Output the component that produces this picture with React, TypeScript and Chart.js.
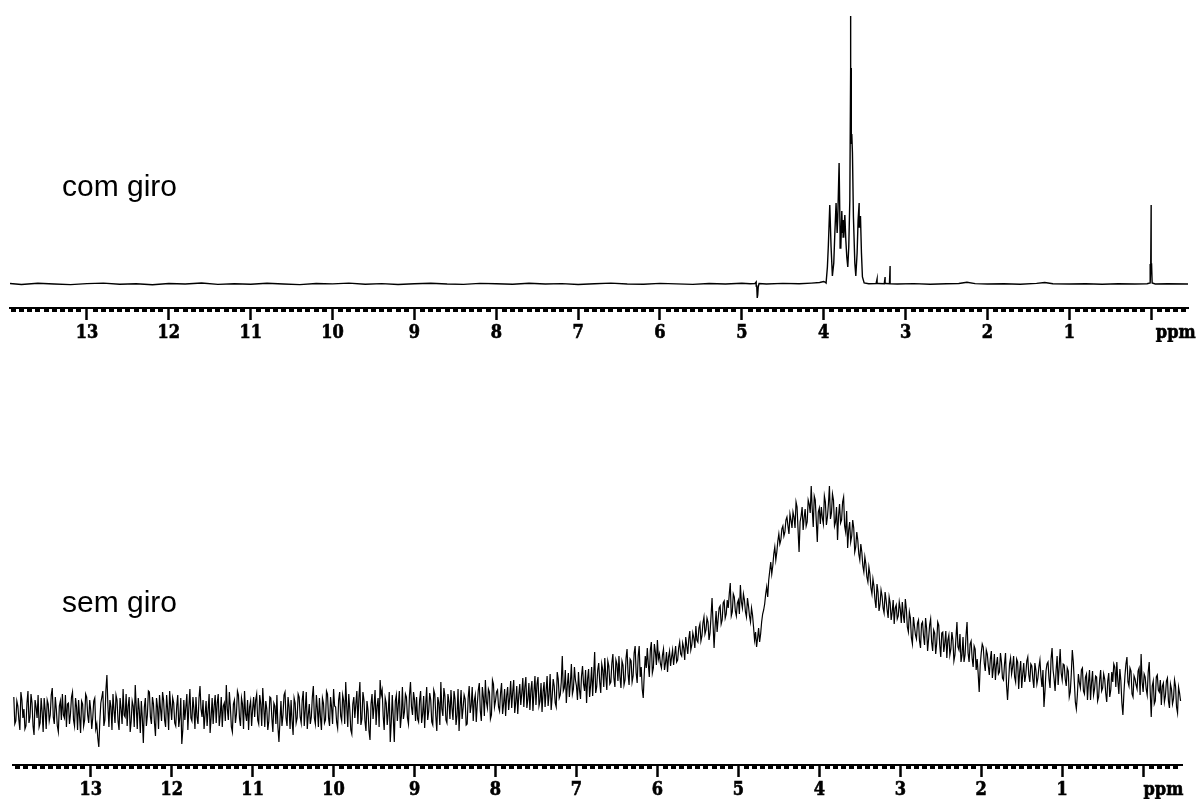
import React, { useEffect, useRef } from "react";
import { Chart, registerables } from "chart.js";

Chart.register(...registerables);

// ---------- axis texts ----------
const majorTickValues = [13, 12, 11, 10, 9, 8, 7, 6, 5, 4, 3, 2, 1];
const majorTickLabels = ["13", "12", "11", "10", "9", "8", "7", "6", "5", "4", "3", "2", "1"];
const unitLabel = "ppm";
const comGiroUnitAt = -0.3;
const semGiroUnitAt = -0.25;
const comGiroTitle = "com giro";
const semGiroTitle = "sem giro";

// ---------- "com giro" spectrum (ppm, intensity) ----------
const comGiroPpm = [
  13.94, 13.8, 13.6, 13.4, 13.2, 13.0, 12.8, 12.6, 12.4, 12.2, 12.0, 11.8, 11.6, 11.4, 11.2, 11.0,
  10.8, 10.6, 10.4, 10.2, 10.0, 9.8, 9.6, 9.4, 9.2, 9.0, 8.8, 8.6, 8.4, 8.2, 8.0, 7.8, 7.6, 7.4,
  7.2, 7.0, 6.8, 6.6, 6.4, 6.2, 6.0, 5.8, 5.6, 5.4, 5.2, 5.0, 4.9, 4.84, 4.825, 4.818, 4.812,
  4.806, 4.8, 4.79, 4.7, 4.5, 4.3, 4.15, 4.05, 4.0, 3.985, 3.971, 3.955, 3.943, 3.926, 3.91,
  3.894, 3.877, 3.864, 3.849, 3.836, 3.828, 3.812, 3.8, 3.791, 3.779, 3.771, 3.763, 3.755,
  3.742, 3.73, 3.718, 3.706, 3.694, 3.681, 3.673, 3.669, 3.667, 3.665, 3.661, 3.657, 3.649,
  3.637, 3.62, 3.608, 3.592, 3.58, 3.567, 3.559, 3.551, 3.539, 3.527, 3.506, 3.45, 3.36, 3.348,
  3.338, 3.26, 3.25, 3.24, 3.197, 3.189, 3.181, 3.1, 2.9, 2.7, 2.5, 2.35, 2.25, 2.15, 2.0, 1.8,
  1.6, 1.4, 1.3, 1.2, 1.0, 0.8, 0.6, 0.4, 0.2, 0.05, 0.012, 0.005, 0.0, -0.005, -0.012, -0.05,
  -0.2, -0.45,
];
const comGiroInt = [
  0.5, -0.5, 0.8, 0, -0.6, 0.4, 0.9, -0.3, 0.2, -0.8, 0.5, 0, 1, -0.4, 0.3, -0.2,
  0.7, 0, -0.6, 0.5, 0.1, 0.9, -0.2, 0.4, -0.5, 0.3, 0.8, 0, -0.4, 0.6, 0.2, -0.3, 0.7, 0,
  0.4, -0.5, 0.3, 0.9, 0, -0.2, 0.6, 0.1, -0.4, 0.5, 0, 0.8, 0.3, 0.5, 2, -2, -14,
  -11, -3, 0.5, 0, 0.6, 0.2, 0.9, 1.5, 2.5, 2, 1, 17, 39, 79, 37,
  8, 21, 51, 81, 51, 67, 121, 51, 36, 73, 51, 64, 47,
  69, 44, 27, 17, 37, 84, 217, 268, 180, 216, 140, 150, 131,
  67, 21, 8, 31, 64, 81, 57, 68, 31, 7, 1, 0.3, 0.5, 5,
  0.5, 0.3, 7, 0.5, 0.3, 18, 0.3, 0, 0.4, -0.3, 0.2, 0.5, 1.8, 0.4, 0, 0.3,
  -0.2, 0.6, 1.5, 0.3, 0, 0.2, -0.3, 0.3, 0, 0.3, 1, 20, 79, 20, 1, 0,
  0.3, 0,
];

// ---------- "sem giro" spectrum ----------
// grid intensities every 0.025 ppm starting at 13.95 ppm
const semGiroStartPpm = 13.95;
const semGiroStepPpm = 0.025;
const semGiro13 = [15, -9, 6, -18, 12, 3, -14, 21, -5, 9, -23, 5, 17, -11, 0, 14, -17, 8, -3, 24, -12, 3, -20, 11, 18, -6, -15, 9, -2, 20, -14, 5, 12, -21, 8, -8, 15, -11, 2];
const semGiro12 = [-6, 14, -12, -35, 9, 21, -8, 37, -15, 5, 18, -11, 12, -18, 3, 23, -5, -14, 15, -9, 6, 27, -17, 2, 11, -31, 14, -3, 20, -12, 8, -24, 5, 17, -9, 12, -15, 3, 21, -8];
const semGiro11 = [9, -14, 17, -6, -32, 12, 5, -18, 23, -9, 3, 15, -12, 26, -5, -17, 11, 2, -21, 14, 6, -11, 18, -3, -15, 9, 27, -8, 5, -20, 12, -2, 17, -14, 8, 21, -9, -18, 11, 3];
const semGiro10 = [-5, 18, -12, 8, 24, -15, 3, -9, 14, -20, 6, 17, -30, 11, -3, 20, -14, 5, 12, -23, 9, -6, 15, -11, 21, 2, -17, 8, -5, 26, -12, 3, 14, -18, 9, -8, 18, -14, 5, 23];
const semGiro9 = [5, -16, 20, -9, 11, 30, -15, 3, -22, 15, 8, -12, 30, -7, 12, -19, 2, -28, 18, 6, -13, 14, 32, 22, -18, 9, 0, -30, 17, -30, 17, 8, -16, 25, 0, 15, -12, 30, -3, 12];
const semGiro8 = [15, -10, 21, -2, -16, 25, 1, 12, -13, 18, -19, 9, 30, -4, 16, -11, 10, 22, -8, 13, -3, -19, 22, 4, 13, -12, 26, 7, -9, 17, 8, 29, -9, 15, 32, 4, 20, -3, 28, 11];
const semGiro7 = [22, 1, 29, 8, -4, 25, 14, 4, 32, 10, -2, 28, 19, 5, 35, 13, 2, 31, 20, 7, 35, 11, 0, 30, 21, 6, 38, 15, 26, 5, 33, 17, 56, 24, 9, 39, 29, 18, 45, 26];
const semGiro6 = [40, 13, 46, 21, 9, 43, 27, 16, 60, 25, 49, 19, 42, 54, 22, 46, 30, 58, 25, 48, 56, 24, 47, 32, 63, 27, 51, 36, 66, 29, 66, 45, 14, 56, 64, 35, 70, 44, 60, 72];
const semGiro5 = [58, 44, 63, 49, 40, 61, 55, 47, 66, 52, 70, 56, 64, 75, 58, 81, 67, 74, 86, 70, 88, 76, 95, 82, 90, 79, 114, 64, 101, 93, 106, 92, 111, 98, 104, 129, 100, 115, 96, 112];
const semGiro4 = [127, 104, 112, 95, 106, 90, 97, 72, 65, 84, 78, 98, 108, 125, 132, 150, 146, 165, 160, 178, 172, 186, 180, 195, 178, 192, 200, 184, 205, 160, 196, 182, 203, 190, 208, 226, 185, 212, 170, 204];
const semGiro3 = [205, 188, 210, 195, 226, 199, 212, 190, 172, 208, 192, 215, 180, 164, 190, 176, 184, 165, 172, 152, 160, 140, 148, 130, 138, 118, 126, 104, 120, 108, 116, 99, 112, 94, 109, 100, 88, 107, 96, 103];
const semGiro2 = [110, 89, 103, 80, 94, 68, 86, 73, 92, 64, 90, 67, 84, 73, 93, 61, 79, 69, 87, 55, 80, 69, 54, 77, 63, 72, 57, 90, 62, 50, 75, 57, 90, 50, 71, 45, 63, 53, 20, 59];
const semGiro1 = [65, 41, 58, 37, 61, 44, 32, 55, 40, 50, 32, 59, 12, 48, 38, 56, 30, 50, 41, 24, 49, 37, 55, 30, 46, 24, 42, 34, 52, 25, 5, 41, 50, 24, 64, 33, 42, 27, 63, 32];
const semGiro0 = [47, 26, 41, 20, 62, 30, 3, 38, 24, 44, 18, 38, 30, 12, 41, 23, 35, 15, 42, 24, 33, 10, 39, 22, 30, 45, 50, 18, 31, -3, 36, 55, 26, 41, 15, 33, 23, 44, 58, 20];
const semGiroNeg = [35, 17, 50, -5, 31, 11, 37, 20, 7, 29, 16, 34, 4, 23, 13, 26, -1, 19];

// half-step intensities (0.0125 ppm after each grid point)
const semGiroMid13 = [-12, 11, -8, 20, -6, -17, 9, -11, 18, -14, 12, -6, -15, 14, -20, 2, 12, -9, 17, -5, 15, -14, 6, -8, -3, 17, 8, -12, 15, -8, 14, -18, -5, 11, -14, 18, -3, 12, -17];
const semGiroMid12 = [11, -17, -26, -9, 15, -14, 22, 6, 12, -18, 2, 17, -9, 14, -12, -3, 18, 6, -20, 11, -15, 5, 14, -21, -6, 5, -14, 21, -5, 15, -11, 14, -17, 3, 20, -8, 17, -18, 6, 14];
const semGiroMid11 = [-11, 6, -15, 14, -18, -8, 18, 5, -6, 15, -17, -5, 14, 3, 12, -3, -14, 18, -5, -12, 17, 9, -14, 15, 6, -9, 3, 20, -15, 8, -11, 21, -6, 14, -17, -2, 12, 5, -14, 15];
const semGiroMid10 = [12, -8, 17, -14, 5, 11, -18, 15, -6, 9, -12, -15, -9, -14, 17, -6, 15, -17, -9, 14, -11, 18, -5, 12, -14, 20, -3, -12, 15, -6, 17, -15, -5, 14, -11, 21, -6, 15, -12, 6];
const semGiroMid9 = [-10, 12, -4, 17, -12, 6, 18, -18, 8, -6, 21, 14, -13, 20, -9, 11, -19, 8, -7, 22, 6, -15, 17, -4, 14, -13, 20, -10, -6, 11, -9, 21, -4, -7, 18, -6, 17, 5, 20, -9];
const semGiroMid8 = [-7, 12, -11, 16, 7, -8, 19, -10, 22, -4, 15, -13, 3, 24, -8, 18, -7, 4, 21, -13, 23, 5, -7, 17, -13, 14, -1, 25, 11, -10, 22, 1, 25, -4, 10, 23, -7, 32, 5, 20];
const semGiroMid7 = [5, 19, -2, 23, 16, 2, 31, 20, -1, 26, 17, 7, 34, 25, 4, 29, 22, 1, 36, 28, 6, 29, 20, 5, 36, 18, 2, 33, 9, 40, 14, 30, 21, 42, 27, 15, 48, 23, 32, 12];
const semGiroMid6 = [22, 36, 28, 42, 33, 15, 45, 37, 19, 42, 30, 48, 25, 36, 51, 28, 49, 34, 52, 31, 35, 51, 27, 54, 38, 53, 30, 59, 39, 56, 35, 23, 38, 44, 48, 62, 39, 68, 47, 53];
const semGiroMid5 = [48, 57, 42, 60, 55, 46, 62, 57, 50, 64, 58, 69, 52, 66, 73, 62, 79, 64, 72, 84, 71, 89, 78, 94, 72, 96, 88, 85, 80, 104, 88, 109, 94, 112, 118, 96, 118, 101, 109, 98];
const semGiroMid4 = [110, 118, 100, 114, 96, 104, 85, 80, 74, 70, 90, 102, 118, 115, 141, 138, 158, 152, 171, 168, 183, 176, 192, 186, 198, 184, 195, 210, 182, 190, 205, 194, 186, 212, 199, 203, 216, 191, 200, 188];
const semGiroMid3 = [194, 216, 187, 208, 193, 218, 186, 205, 196, 189, 210, 186, 201, 182, 170, 192, 160, 180, 158, 168, 146, 155, 135, 145, 124, 133, 112, 128, 101, 122, 104, 120, 102, 115, 92, 112, 104, 93, 110, 89];
const semGiroMid2 = [97, 113, 85, 100, 74, 95, 77, 89, 71, 88, 76, 94, 61, 87, 70, 82, 58, 90, 67, 79, 60, 81, 72, 57, 80, 51, 74, 65, 78, 57, 50, 77, 59, 68, 54, 66, 42, 38, 47, 68];
const semGiroMid1 = [49, 62, 46, 53, 34, 58, 47, 38, 59, 34, 48, 27, 30, 54, 45, 35, 53, 23, 51, 38, 30, 51, 37, 48, 33, 49, 28, 45, 36, 42, 21, 48, 33, 53, 42, 21, 56, 45, 39, 48];
const semGiroMid0 = [33, 44, 15, 38, 50, 10, 17, 29, 42, 21, 35, 12, 42, 29, 17, 36, 11, 32, 21, 38, 19, 31, 15, 40, 48, 25, 31, 43, 9, 19, 48, 30, 44, 18, 36, 27, 41, 17, 30, 38];
const semGiroMidNeg = [23, 40, 20, 26, 8, 35, 22, 32, 26, 10, 31, 11, 28, 8, 32, 5, 25, 11];

const semGiroInt = [
  ...semGiro13, ...semGiro12, ...semGiro11, ...semGiro10, ...semGiro9, ...semGiro8, ...semGiro7,
  ...semGiro6, ...semGiro5, ...semGiro4, ...semGiro3, ...semGiro2, ...semGiro1, ...semGiro0, ...semGiroNeg,
];
const semGiroMidInt = [
  ...semGiroMid13, ...semGiroMid12, ...semGiroMid11, ...semGiroMid10, ...semGiroMid9, ...semGiroMid8,
  ...semGiroMid7, ...semGiroMid6, ...semGiroMid5, ...semGiroMid4, ...semGiroMid3, ...semGiroMid2,
  ...semGiroMid1, ...semGiroMid0, ...semGiroMidNeg,
];

// ---------- helpers ----------
const near = (a: number, b: number) => Math.abs(a - b) < 1e-6;
const isMajor = (v: number) => near(v, Math.round(v));
const isMinor = (v: number) => near(v * 10, Math.round(v * 10));

function makeTicks(min: number, max: number, unitAt: number) {
  const t: { value: number }[] = [];
  for (let k = Math.floor(max * 10); k >= Math.ceil(min * 10); k--) t.push({ value: k / 10 });
  if (!t.some((x) => near(x.value, unitAt))) t.push({ value: unitAt });
  t.sort((a, b) => a.value - b.value);
  return t;
}

function buildConfig(
  points: { x: number; y: number }[],
  lineWidth: number,
  xMin: number,
  xMax: number,
  yMin: number,
  yMax: number,
  padding: { left: number; right: number; top: number; bottom: number },
  unitAt: number
): any {
  return {
    type: "line",
    data: {
      datasets: [
        {
          data: points,
          borderColor: "#000",
          borderWidth: lineWidth,
          pointRadius: 0,
          fill: false,
          tension: 0,
        },
      ],
    },
    options: {
      animation: false,
      responsive: false,
      events: [],
      layout: { padding, autoPadding: false },
      plugins: { legend: { display: false }, tooltip: { enabled: false }, title: { display: false } },
      scales: {
        x: {
          type: "linear",
          position: "bottom",
          reverse: true,
          min: xMin,
          max: xMax,
          afterBuildTicks: (s: any) => {
            s.ticks = makeTicks(xMin, xMax, unitAt);
          },
          afterFit: (s: any) => {
            s.height = 34;
          },
          border: { display: true, color: "#000", width: 2 },
          grid: {
            display: true,
            drawOnChartArea: false,
            drawTicks: true,
            tickLength: 12,
            tickColor: (c: any) => (c.tick && isMinor(c.tick.value) ? "#000" : "rgba(0,0,0,0)"),
            tickWidth: (c: any) => (c.tick && isMajor(c.tick.value) ? 2.5 : 5),
            tickBorderDash: (c: any) => (c.tick && isMajor(c.tick.value) ? [] : [3, 60]),
          },
          ticks: {
            autoSkip: false,
            maxRotation: 0,
            minRotation: 0,
            padding: 3,
            color: "#000",
            textStrokeColor: "#000",
            textStrokeWidth: 0.6,
            font: { family: "'DejaVu Serif Condensed', 'DejaVu Serif', serif", size: 18, weight: "bold" },
            callback: (value: number) => {
              if (near(value, unitAt)) return unitLabel;
              const idx = majorTickValues.findIndex((m) => near(m, value));
              return idx >= 0 ? majorTickLabels[idx] : "";
            },
          },
        },
        y: { display: false, min: yMin, max: yMax },
      },
    },
  };
}

export default function App() {
  const topRef = useRef<HTMLCanvasElement>(null);
  const botRef = useRef<HTMLCanvasElement>(null);

  useEffect(() => {
    const topPts = comGiroPpm.map((p, i) => ({ x: p, y: comGiroInt[i] })).reverse();
    const botPts: { x: number; y: number }[] = [];
    semGiroInt.forEach((v, i) => {
      const p = semGiroStartPpm - i * semGiroStepPpm;
      botPts.push({ x: p, y: v });
      botPts.push({ x: p - semGiroStepPpm / 2, y: semGiroMidInt[i] });
    });
    botPts.reverse();
    const c1 = new Chart(
      topRef.current as HTMLCanvasElement,
      buildConfig(topPts, 1.4, -0.45, 13.94, -24, 274, { left: 10, right: 8, top: 10, bottom: 18 }, comGiroUnitAt)
    );
    const c2 = new Chart(
      botRef.current as HTMLCanvasElement,
      buildConfig(botPts, 1.2, -0.48, 13.96, -53, 292, { left: 13, right: 14, top: 20, bottom: 0 }, semGiroUnitAt)
    );
    return () => {
      c1.destroy();
      c2.destroy();
    };
  }, []);

  const titleStyle: React.CSSProperties = {
    position: "absolute",
    left: 62,
    font: "30px 'Liberation Sans', Arial, sans-serif",
    lineHeight: "1",
    color: "#000",
    whiteSpace: "nowrap",
  };

  return (
    <div style={{ position: "fixed", left: 0, top: 0, width: 1196, height: 799, background: "#fff", overflow: "hidden" }}>
      <canvas ref={topRef} width={1196} height={360} style={{ position: "absolute", left: 0, top: 0, width: 1196, height: 360 }} />
      <canvas ref={botRef} width={1196} height={399} style={{ position: "absolute", left: 0, top: 400, width: 1196, height: 399 }} />
      <div style={{ ...titleStyle, top: 171 }}>{comGiroTitle}</div>
      <div style={{ ...titleStyle, top: 587 }}>{semGiroTitle}</div>
    </div>
  );
}
